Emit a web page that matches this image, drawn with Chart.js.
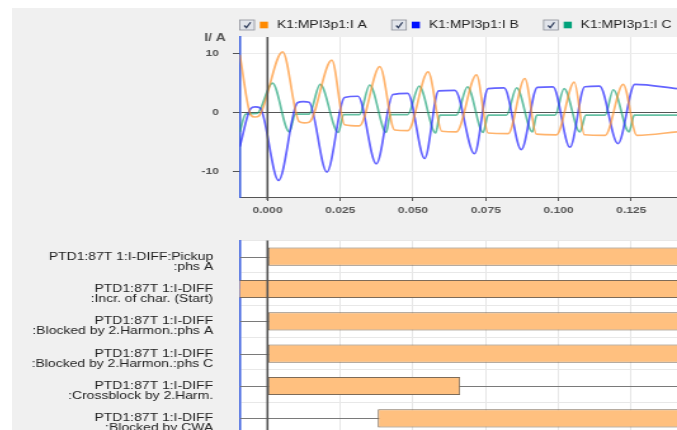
<!DOCTYPE html>
<html>
<head>
<meta charset="utf-8">
<script src="https://cdn.jsdelivr.net/npm/chart.js@4.4.1/dist/chart.umd.min.js"></script>
<style>
  html, body { margin: 0; padding: 0; background: #fff; overflow: hidden; }
  #panel { position: absolute; left: 12px; top: 8px; width: 665px; height: 422px; background: #f0f0f0; overflow: hidden; }
  canvas { position: absolute; left: 0; }
</style>
</head>
<body>
<div id="panel">
  <canvas id="wave" width="524" height="222" style="top:0;width:665px;height:222px"></canvas>
  <canvas id="binary" width="524" height="203" style="top:224px;width:665px;height:203px"></canvas>
</div>
<script>
// time axis (s)
var tMin = -0.0095;
var tMax = 0.1407;
var timeTicks = [0, 0.025, 0.05, 0.075, 0.1, 0.125];
var currentTicks = [-10, 0, 10];

// phase currents
var timeA = [-0.0095, -0.0057, -0.0043, -0.0029, 0.0052, 0.0109, 0.0126, 0.0143, 0.0221, 0.0265, 0.0316,
  0.0386, 0.0437, 0.0482, 0.0552, 0.0599, 0.0649, 0.0718, 0.0758, 0.0827, 0.0884, 0.0924, 0.0993,
  0.1054, 0.1089, 0.1160, 0.1222, 0.1269, 0.1407];
var currentA = [9.7, -0.5, -0.8, -0.6, 10.2, -1.6, -1.8, -1.7, 8.8, -2.1, -2.3,
  7.7, -3.0, -3.1, 6.8, -3.2, -3.3, 6.3, -3.5, -3.6, 5.7, -3.7, -3.8,
  5.1, -3.8, -3.9, 4.7, -3.9, -3.3];

var timeB = [-0.0095, -0.0058, -0.0042, -0.0025, 0.0038, 0.0103, 0.0123, 0.0143, 0.0204, 0.0265, 0.0311,
  0.0374, 0.0431, 0.0482, 0.0540, 0.0588, 0.0644, 0.0711, 0.0758, 0.0813, 0.0872, 0.0927, 0.0981,
  0.1039, 0.1090, 0.1141, 0.1204, 0.1262, 0.1407];
var currentB = [-5.8, 0.6, 0.9, 0.7, -11.5, 1.6, 1.8, 1.7, -10.1, 2.5, 2.7,
  -8.7, 3.0, 3.2, -7.8, 3.6, 3.7, -7.0, 4.0, 4.1, -6.3, 4.2, 4.3,
  -5.9, 4.3, 4.4, -5.3, 4.7, 4.0];

var timeC = [-0.0095, -0.0075, -0.0036, 0.0017, 0.0075, 0.0096, 0.0143, 0.0181, 0.0243, 0.0262, 0.0316,
  0.0351, 0.0408, 0.0422, 0.0482, 0.0521, 0.0578, 0.0592, 0.0649, 0.0687, 0.0741, 0.0758, 0.0821,
  0.0856, 0.0910, 0.0925, 0.0988, 0.1019, 0.1073, 0.1094, 0.1160, 0.1188, 0.1242, 0.1260, 0.1407];
var currentC = [-3.3, -0.3, -0.2, 4.9, -3.3, -0.3, -0.3, 4.7, -3.4, -0.4, -0.4,
  4.6, -3.4, -0.4, -0.4, 4.4, -3.5, -0.5, -0.5, 4.3, -3.4, -0.5, -0.5,
  4.1, -3.3, -0.5, -0.5, 4.0, -3.3, -0.5, -0.5, 3.8, -3.3, -0.5, -0.5];

// binary signals
var signalNames = [
  ['PTD1:87T 1:I-DIFF:Pickup', ':phs A'],
  ['PTD1:87T 1:I-DIFF', ':Incr. of char. (Start)'],
  ['PTD1:87T 1:I-DIFF', ':Blocked by 2.Harmon.:phs A'],
  ['PTD1:87T 1:I-DIFF', ':Blocked by 2.Harmon.:phs C'],
  ['PTD1:87T 1:I-DIFF', ':Crossblock by 2.Harm.'],
  ['PTD1:87T 1:I-DIFF', ':Blocked by CWA']
];
var signalOn  = [0, -0.02, 0, 0, 0, 0.0379];
var signalOff = [0.16, 0.16, 0.16, 0.16, 0.0662, 0.16];

var fontFamily = 'Arial, "Liberation Sans", sans-serif';
var legendColours = ['#ff8a00', '#0010ff', '#00a27a'];

function trace(label, times, values, colour) {
  return {
    label: label,
    data: times.map(function(t, i) { return { x: t, y: values[i] }; }),
    borderColor: colour,
    borderWidth: 1.7,
    pointRadius: 0,
    cubicInterpolationMode: 'monotone',
    fill: false
  };
}

var plotBackground = {
  id: 'plotBackground',
  beforeDraw: function(chart) {
    var a = chart.chartArea, ctx = chart.ctx;
    ctx.save();
    ctx.fillStyle = '#ffffff';
    ctx.fillRect(a.left, a.top, a.right - a.left, a.bottom - a.top);
    ctx.restore();
  }
};

// dark time cursor at t = 0
var cursorLine = {
  id: 'cursorLine',
  afterDatasetsDraw: function(chart) {
    var a = chart.chartArea, ctx = chart.ctx;
    var x = chart.scales.x.getPixelForValue(0);
    ctx.save();
    ctx.strokeStyle = '#555';
    ctx.lineWidth = 1.6;
    ctx.beginPath();
    ctx.moveTo(x, a.top);
    ctx.lineTo(x, a.bottom + 3);
    ctx.stroke();
    ctx.restore();
  }
};

var checkLegend = {
  id: 'checkLegend',
  afterDraw: function(chart) {
    var ctx = chart.ctx;
    var left = chart.chartArea.left;
    var y = 17;
    chart.data.datasets.forEach(function(ds, i) {
      var x0 = left + i * 119.7;
      ctx.save();
      ctx.fillStyle = '#e2e5eb';
      ctx.strokeStyle = '#8d9098';
      ctx.lineWidth = 0.8;
      ctx.fillRect(x0, y - 5, 11.5, 10);
      ctx.strokeRect(x0, y - 5, 11.5, 10);
      ctx.strokeStyle = '#2f3d5c';
      ctx.lineWidth = 1.2;
      ctx.beginPath();
      ctx.moveTo(x0 + 3.5, y + 0.5);
      ctx.lineTo(x0 + 5.2, y + 2.6);
      ctx.lineTo(x0 + 8.5, y - 2.8);
      ctx.stroke();
      ctx.fillStyle = legendColours[i];
      ctx.fillRect(x0 + 15.8, y - 3.3, 6.4, 6.6);
      ctx.fillStyle = '#222';
      ctx.font = '11px ' + fontFamily;
      ctx.textBaseline = 'middle';
      ctx.textAlign = 'left';
      ctx.fillText(ds.label, x0 + 29.2, y);
      ctx.restore();
    });
  }
};

var unitLabel = {
  id: 'unitLabel',
  afterDraw: function(chart) {
    var ctx = chart.ctx;
    ctx.save();
    ctx.fillStyle = '#555';
    ctx.font = 'bold 11px ' + fontFamily;
    ctx.textAlign = 'right';
    ctx.textBaseline = 'middle';
    ctx.fillText('I/ A', chart.chartArea.left - 11, 30);
    ctx.restore();
  }
};

var rowBaselines = {
  id: 'rowBaselines',
  beforeDatasetsDraw: function(chart) {
    var a = chart.chartArea, ctx = chart.ctx, ys = chart.scales.y;
    ctx.save();
    ctx.strokeStyle = '#7a7a7a';
    ctx.lineWidth = 1;
    chart.data.labels.forEach(function(l, i) {
      var y = Math.round(ys.getPixelForValue(i)) + 0.5;
      ctx.beginPath();
      ctx.moveTo(a.left, y);
      ctx.lineTo(a.right, y);
      ctx.stroke();
    });
    ctx.restore();
  }
};

new Chart(document.getElementById('wave'), {
  type: 'line',
  data: {
    datasets: [
      trace('K1:MPI3p1:I A', timeA, currentA, 'rgba(255,145,40,0.68)'),
      trace('K1:MPI3p1:I B', timeB, currentB, 'rgba(40,40,255,0.72)'),
      trace('K1:MPI3p1:I C', timeC, currentC, 'rgba(20,160,115,0.65)')
    ]
  },
  options: {
    responsive: false,
    animation: false,
    layout: { padding: { top: 29, left: 0, right: 0, bottom: 0 } },
    plugins: { legend: { display: false }, tooltip: { enabled: false } },
    scales: {
      x: {
        type: 'linear', min: tMin, max: tMax,
        afterBuildTicks: function(s) { s.ticks = timeTicks.map(function(v) { return { value: v }; }); },
        afterFit: function(s) { s.height = 33; s.paddingLeft = 0; s.paddingRight = 0; },
        ticks: {
          callback: function(v) { return v.toFixed(3); },
          color: '#555', padding: 4, maxRotation: 0, autoSkip: false,
          font: { family: fontFamily, size: 9.5, weight: 'bold' }
        },
        grid: { color: '#e6e6e6', tickColor: '#555', tickLength: 4 },
        border: { color: '#555', width: 1 }
      },
      y: {
        min: -14.3, max: 12.7,
        afterBuildTicks: function(s) { s.ticks = currentTicks.map(function(v) { return { value: v }; }); },
        afterFit: function(s) { s.width = 179.5; s.paddingTop = 0; s.paddingBottom = 0; },
        ticks: {
          color: '#555', padding: 11,
          font: { family: fontFamily, size: 9.5, weight: 'bold' }
        },
        grid: {
          color: function(c) { return c.tick && c.tick.value === 0 ? '#555' : '#ececec'; },
          tickColor: '#555', tickLength: 5.5
        },
        border: { color: '#3a5fe0', width: 1.5 }
      }
    }
  },
  plugins: [plotBackground, cursorLine, checkLegend, unitLabel]
});

new Chart(document.getElementById('binary'), {
  type: 'bar',
  data: {
    labels: signalNames.map(function(n) { return n.join(''); }),
    datasets: [{
      data: signalOn.map(function(t, i) { return [t, signalOff[i]]; }),
      backgroundColor: '#ffc07f',
      borderColor: '#7d6b58',
      borderWidth: 1,
      borderSkipped: false,
      barPercentage: 0.56,
      categoryPercentage: 1
    }]
  },
  options: {
    indexAxis: 'y',
    responsive: false,
    animation: false,
    layout: { padding: { top: 8.5, bottom: 0.5, left: 0, right: 0 } },
    plugins: { legend: { display: false }, tooltip: { enabled: false } },
    scales: {
      x: {
        type: 'linear', min: tMin, max: tMax,
        afterBuildTicks: function(s) { s.ticks = timeTicks.map(function(v) { return { value: v }; }); },
        afterFit: function(s) { s.height = 0; s.paddingLeft = 0; s.paddingRight = 0; },
        ticks: { display: false },
        grid: { color: '#e6e6e6', drawTicks: false },
        border: { display: false }
      },
      y: {
        afterFit: function(s) { s.width = 179.5; s.paddingTop = 0; s.paddingBottom = 0; },
        ticks: {
          callback: function(v, i) { return [''].concat(signalNames[i]); },
          color: '#222', padding: 21, autoSkip: false,
          font: { family: fontFamily, size: 11, lineHeight: 0.91 }
        },
        grid: { color: '#e8e8e8', drawTicks: false },
        border: { color: '#3a5fe0', width: 1.5 }
      }
    }
  },
  plugins: [plotBackground, rowBaselines, cursorLine]
});
</script>
</body>
</html>
